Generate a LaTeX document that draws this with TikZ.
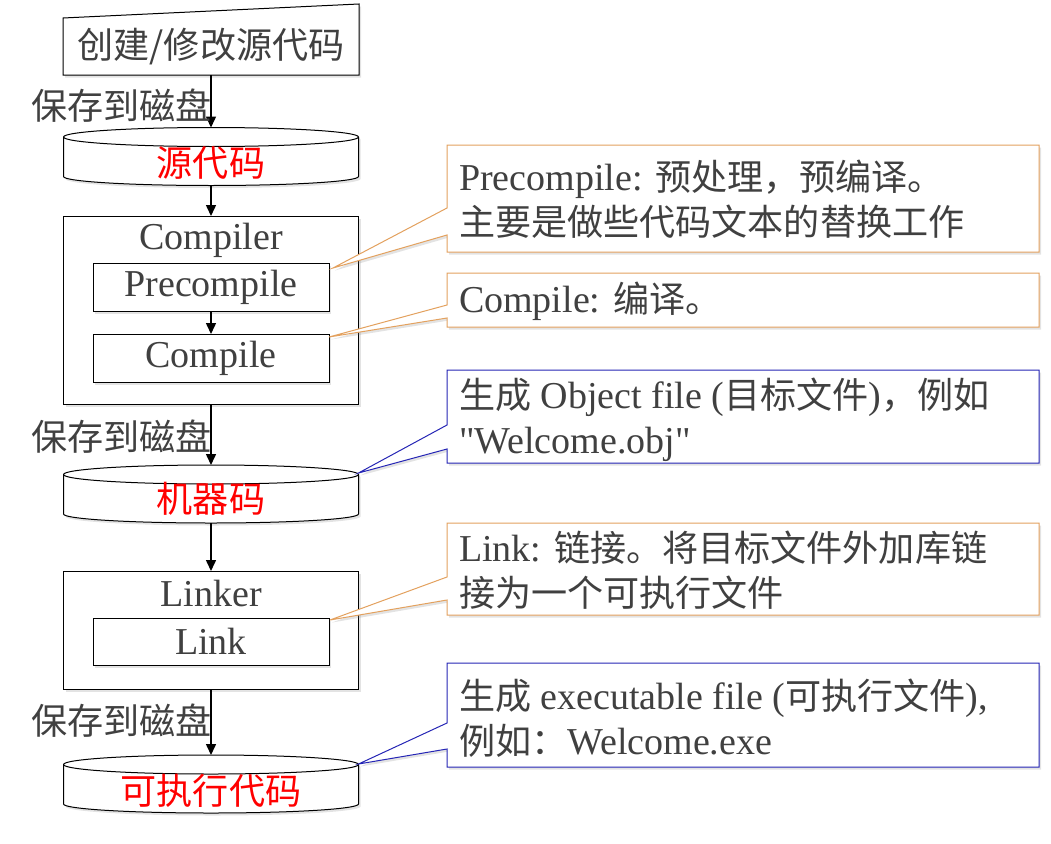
\documentclass[tikz,border=0pt]{standalone}
\usepackage{fontspec}
\setmainfont{Liberation Serif}
\newfontfamily\cjk{Noto Sans CJK SC}[Scale=0.95]
\usetikzlibrary{arrows.meta,shadows,calc}
\definecolor{textgray}{HTML}{404040}
\definecolor{corange}{HTML}{E3A15E}
\definecolor{cblue}{HTML}{2525B5}
\newcommand\zh[1]{{\cjk #1}}
\tikzset{
  shadowed/.style={drop shadow={shadow xshift=2pt,shadow yshift=-2.5pt,opacity=0.22}},
  area/.style={inner sep=0pt,outer sep=0pt,draw=none},
  mybox/.style={inner sep=0pt,outer sep=0pt,draw=black,line width=1pt,fill=white,shadowed},
  lbl/.style={inner sep=0pt,outer sep=0pt,text=textgray,font=\fontsize{38pt}{44pt}\selectfont},
  redlbl/.style={lbl,text=red},
  cyl/.style={area,minimum width=295pt,minimum height=58pt},
  cylline/.style={draw=black,line width=1pt,fill=white,shadowed},
  calline/.style={line width=1pt,fill=white,shadowed,line join=miter},
  calbox/.style={area,minimum width=592pt},
  caltext/.style={lbl,anchor=west,align=left,font=\fontsize{38pt}{45pt}\selectfont},
  arr/.style={-{Triangle[width=10pt,length=11pt]},line width=1.5pt,draw=black}
}
\newcommand\cylpath[1]{%
  \draw[cylline] ([yshift=-9.5pt]#1.north west) -- ([yshift=9pt]#1.south west)
    arc[start angle=180,end angle=360,x radius=147.5pt,y radius=9pt]
    -- ([yshift=-9.5pt]#1.north east)
    arc[start angle=0,end angle=180,x radius=147.5pt,y radius=9.5pt] -- cycle;
  \draw[line width=1pt] ([yshift=-9.5pt]#1.north west)
    arc[start angle=180,end angle=360,x radius=147.5pt,y radius=9.5pt];}
\newcommand\calloutpath[5]{%
  \draw[calline,draw=#2] (#1.north west) -- (#1.north east) -- (#1.south east)
    -- (#1.south west) -- ([yshift=-#4pt]#1.north west) -- #5
    -- ([yshift=-#3pt]#1.north west) -- cycle;}
\begin{document}
\begin{tikzpicture}[x=1pt,y=-1pt]
\useasboundingbox (0,0) rectangle (1051,843);

% top input box
\node[area,minimum width=296pt,minimum height=71pt] (edit) at (211,39.5) {};
\draw[draw=black,line width=1pt,fill=white,shadowed] (edit.south west)
  -- ([yshift=-14pt]edit.north west) -- (edit.north east) -- (edit.south east) -- cycle;
\node[lbl] (edittext) at (211,47) {\zh{创建/修改源代码}};

% source cylinder
\node[cyl] (src) at (211,156.5) {};
\cylpath{src}
\node[redlbl] (srctext) at (211,163) {\zh{源代码}};

% compiler
\node[mybox,minimum width=295pt,minimum height=188pt] (compiler) at (211,310) {};
\node[lbl] (compilertext) at (211,240) {Compiler};
\node[mybox,minimum width=236pt,minimum height=48pt] (pre) at (211,287) {};
\node[mybox,minimum width=236pt,minimum height=48pt] (comp) at (211,358) {};
\node[lbl] (pretext) at (pre) {Precompile};
\node[lbl] (comptext) at (comp) {Compile};

% object cylinder
\node[cyl] (obj) at (211,494) {};
\cylpath{obj}
\node[redlbl] (objtext) at (211,499) {\zh{机器码}};

% linker
\node[mybox,minimum width=295pt,minimum height=118pt] (linker) at (211,630) {};
\node[lbl] (linkertext) at (211,593) {Linker};
\node[mybox,minimum width=236pt,minimum height=47pt] (link) at (211,641.5) {};
\node[lbl] (linktext) at (link) {Link};

% executable cylinder
\node[cyl] (exe) at (211,784) {};
\cylpath{exe}
\node[redlbl] (exetext) at (211,791) {\zh{可执行代码}};

% arrows
\draw[arr] (edit.south) -- (src.north);
\draw[arr] (src.south) -- (compiler.north);
\draw[arr] (pre.south) -- (comp.north);
\draw[arr] (compiler.south) -- (obj.north);
\draw[arr] (obj.south) -- (linker.north);
\draw[arr] (linker.south) -- (exe.north);

\node[lbl,anchor=east] (save1) at (212,106) {\zh{保存到磁盘}};
\node[lbl,anchor=east] (save2) at (212,437) {\zh{保存到磁盘}};
\node[lbl,anchor=east] (save3) at (212,721) {\zh{保存到磁盘}};

% callouts
\node[calbox,minimum height=107pt] (c1) at (743,198.5) {};
\calloutpath{c1}{corange}{63}{90}{([xshift=4pt,yshift=-5pt]pre.north east)}
\node[caltext] (c1text) at ([xshift=12pt,yshift=-1pt]c1.west)
  {Precompile: \zh{预处理，预编译。}\\\zh{主要是做些代码文本的替换工作}};

\node[calbox,minimum height=54pt] (c2) at (743,300) {};
\calloutpath{c2}{corange}{32}{45}{([yshift=-3pt]comp.north east)}
\node[caltext] (c2text) at ([xshift=12pt,yshift=-1pt]c2.west) {Compile: \zh{编译。}};

\node[calbox,minimum height=93pt] (c3) at (743,416.5) {};
\calloutpath{c3}{cblue}{55}{79}{([yshift=-8pt]obj.north east)}
\node[caltext] (c3text) at ([xshift=12pt,yshift=-3pt]c3.west)
  {\zh{生成} Object file (\zh{目标文件})\zh{，例如}\\\textquotedbl Welcome.obj\textquotedbl};

\node[calbox,minimum height=92pt] (c4) at (743,569) {};
\calloutpath{c4}{corange}{54}{77}{([xshift=1pt,yshift=-2pt]link.north east)}
\node[caltext] (c4text) at ([xshift=12pt,yshift=-1pt]c4.west)
  {Link: \zh{链接。将目标文件外加库链}\\\zh{接为一个可执行文件}};

\node[calbox,minimum height=104pt] (c5) at (743,715) {};
\calloutpath{c5}{cblue}{60}{86}{([yshift=-9pt]exe.north east)}
\node[caltext] (c5text) at ([xshift=12pt,yshift=-3pt]c5.west)
  {\zh{生成} executable file (\zh{可执行文件}),\\\zh{例如：}Welcome.exe};
\end{tikzpicture}
\end{document}
